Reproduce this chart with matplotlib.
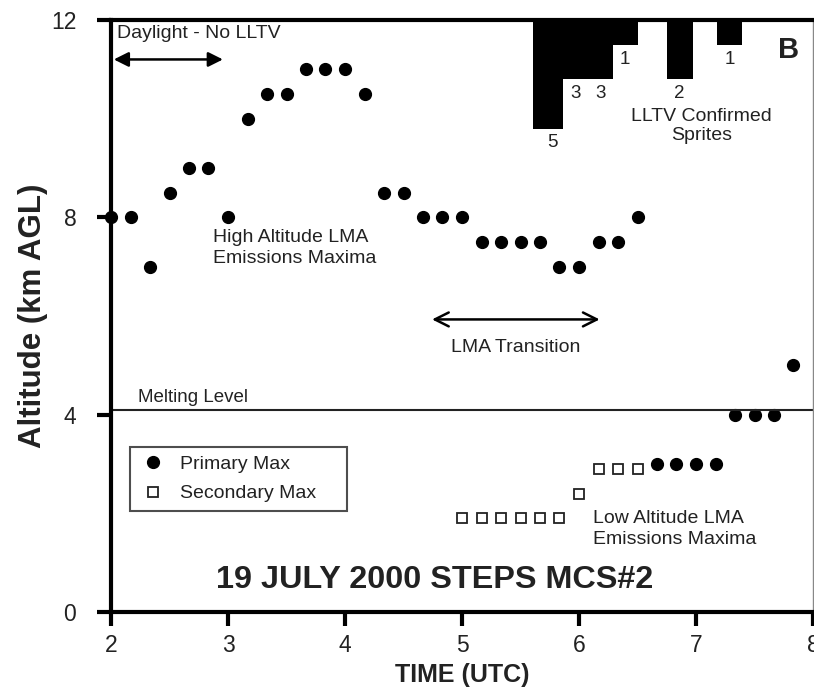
import numpy as np
import matplotlib.pyplot as plt

plt.rcParams['font.family'] = ['Liberation Sans', 'DejaVu Sans']

# primary max (black dots), time in UTC hours, altitude km AGL
prim_t = [2.0, 2.167, 2.333, 2.5, 2.667, 2.833, 3.0, 3.167, 3.333, 3.5, 3.667, 3.833, 4.0, 4.167,
          4.333, 4.5, 4.667, 4.833, 5.0, 5.167, 5.333, 5.5, 5.667, 5.833, 6.0, 6.167, 6.333, 6.5,
          6.667, 6.833, 7.0, 7.167, 7.333, 7.5, 7.667, 7.833]
prim_z = [8, 8, 7, 8.5, 9, 9, 8, 10, 10.5, 10.5, 11, 11, 11, 10.5,
          8.5, 8.5, 8, 8, 8, 7.5, 7.5, 7.5, 7.5, 7, 7, 7.5, 7.5, 8,
          3, 3, 3, 3, 4, 4, 4, 5]

# secondary max (open squares)
sec_t = [5.0, 5.167, 5.333, 5.5, 5.667, 5.833, 6.0, 6.167, 6.333, 6.5]
sec_z = [1.9, 1.9, 1.9, 1.9, 1.9, 1.9, 2.4, 2.9, 2.9, 2.9]

# LLTV confirmed sprites (bars hanging from top)
spr_left = [5.61, 5.86, 6.08, 6.29, 6.75, 7.18]
spr_right = [5.86, 6.08, 6.29, 6.50, 6.97, 7.39]
spr_count = [5, 3, 3, 1, 2, 1]
spr_depth = [2.2, 1.2, 1.2, 0.5, 1.2, 0.5]

melt = 4.1
txt = '#222222'

fig = plt.figure(figsize=(8.14, 6.89), dpi=100)
ax = fig.add_axes([0.1364, 0.1118, 0.8624, 0.8592])

lefts = np.array(spr_left)
widths = np.array(spr_right) - lefts
depth = np.array(spr_depth)
ax.bar(lefts, depth, width=widths, bottom=12 - depth, align='edge', color='black', linewidth=0)
for l, w, d, c in zip(lefts, widths, depth, spr_count):
    ax.text(l + w / 2 + (0.04 if c == 5 else 0), 12 - d - 0.12, str(c), ha='center', va='top',
            fontsize=13.5, color=txt)

ax.plot(prim_t, prim_z, 'o', color='black', markersize=8.5, label='Primary Max', clip_on=False)
ax.plot(sec_t, sec_z, 's', mfc='white', mec='#222222', mew=1.3, markersize=7, label='Secondary Max')

ax.axhline(melt, color='#222222', linewidth=1.5)
ax.text(2.23, melt + 0.08, 'Melting Level', fontsize=13.5, color=txt, va='bottom')

ax.annotate('', xy=(2.0, 11.2), xytext=(2.98, 11.2),
            arrowprops=dict(arrowstyle='<|-|>', color='black', lw=1.8, mutation_scale=22))
ax.text(2.05, 11.73, 'Daylight - No LLTV', fontsize=14, color=txt, va='center')

ax.annotate('', xy=(4.72, 5.93), xytext=(6.2, 5.93),
            arrowprops=dict(arrowstyle='<->', color='black', lw=1.8, mutation_scale=25))
ax.text(5.46, 5.36, 'LMA Transition', fontsize=14, color=txt, ha='center', va='center')

ax.text(2.87, 7.38, 'High Altitude LMA\nEmissions Maxima', fontsize=14, color=txt,
        va='center', linespacing=1.3)
ax.text(6.12, 1.69, 'Low Altitude LMA\nEmissions Maxima', fontsize=14, color=txt,
        va='center', linespacing=1.3)
ax.text(7.05, 9.85, 'LLTV Confirmed\nSprites', fontsize=14, color=txt,
        ha='center', va='center', linespacing=1.2)
ax.text(7.79, 11.4, 'B', fontsize=21, fontweight='bold', color=txt, ha='center', va='center')
ax.text(4.77, 0.65, '19 JULY 2000 STEPS MCS#2', fontsize=23.3, fontweight='bold', color=txt,
        ha='center', va='center')

leg = ax.legend(loc='upper left', bbox_to_anchor=(0.027, 0.164, 0.309, 0.115), mode='expand',
                borderaxespad=0, fontsize=14, frameon=True, fancybox=False, edgecolor='#222222',
                borderpad=0.45, handletextpad=0.6, labelspacing=0.6, handlelength=1.5)
leg.get_frame().set_linewidth(1.5)
for t in leg.get_texts():
    t.set_color(txt)

ax.set_xlim(2, 8)
ax.set_ylim(0, 12)
ax.set_xticks(range(2, 9))
ax.set_yticks([0, 4, 8, 12])
ax.tick_params(axis='both', direction='out', length=10, width=3, labelsize=16.5, colors='black',
               labelcolor=txt)
ax.tick_params(axis='x', pad=6)
ax.tick_params(axis='y', pad=15)
for s in ['left', 'bottom', 'top']:
    ax.spines[s].set_linewidth(3)
ax.spines['right'].set_linewidth(1.0)
ax.spines['right'].set_color('#888888')

ax.set_xlabel('TIME (UTC)', fontsize=18, fontweight='bold', color=txt, labelpad=4)
ax.set_ylabel('Altitude (km AGL)', fontsize=22.5, fontweight='bold', color=txt)
ax.yaxis.set_label_coords(-0.09, 0.5)

fig.savefig('out.png', dpi=100)
